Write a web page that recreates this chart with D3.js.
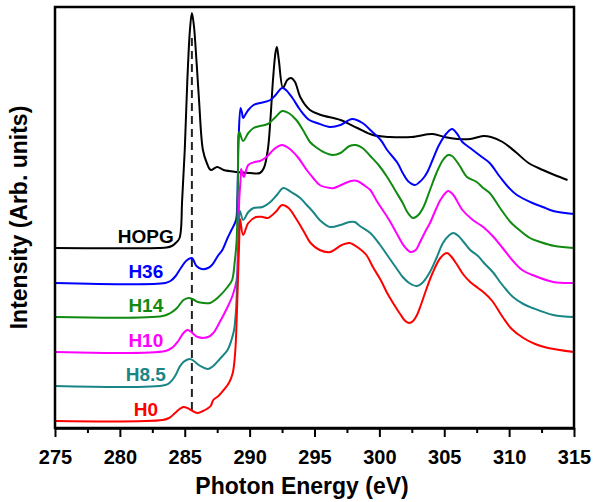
<!DOCTYPE html>
<html>
<head>
<meta charset="utf-8">
<script src="https://cdn.jsdelivr.net/npm/d3@7"></script>
<style>
  body { margin: 0; background: #fff; }
  svg text { font-family: "Liberation Sans", Arial, sans-serif; font-weight: bold; }
</style>
</head>
<body>
<div id="chart"></div>
<script>
// x ticks
var xTicks = [275, 280, 285, 290, 295, 300, 305, 310, 315];
var xMinor = [277.5, 282.5, 287.5, 292.5, 297.5, 302.5, 307.5, 312.5];

// sample names, top to bottom
var names = ["HOPG", "H36", "H14", "H10", "H8.5", "H0"];
var colors = ["#000000", "#0000ff", "#108a10", "#ff00ff", "#1a8585", "#ff0000"];

// spectra, [photon energy (eV), intensity (arb., stacked)]
var hopg = [[275,180],[283,180],[283.6,180.5],[284,182],[284.3,185],[284.6,190],[284.8,228],[285,278],[285.2,348],
  [285.4,398],[285.55,415],[285.7,403],[285.9,368],[286.1,328],[286.4,278],[286.7,265],[287,258],[287.5,261],
  [288,258],[289,256],[290,255],[290.8,255],[291.1,260],[291.4,278],[291.6,308],[291.8,348],[292,376],[292.1,381],
  [292.25,368],[292.57,340],[292.9,348],[293.2,350],[293.5,346],[293.9,331],[294.65,318],[295.5,313],[297,308],
  [298.3,300],[299.5,293],[300.8,291],[302.5,291],[304.1,294],[305,291],[306,289],[307,289],[308,292],[308.6,291],
  [309.5,286],[310.5,276],[311.5,265],[312.6,258],[313.5,253],[314.5,248]];

var h36 = [[275,145],[283.5,145],[283.9,147],[284.3,152],[284.7,160],[285.1,167],[285.55,170],[285.9,162],[286.3,159],
  [286.8,160],[287.1,163],[287.6,173],[287.9,178],[288.3,190],[288.6,198],[288.95,208],[289.05,228],[289.15,288],
  [289.3,320],[289.4,316],[289.5,310],[289.65,313],[289.9,318],[290.3,323],[290.8,325],[291.6,328],[292,333],
  [292.5,340],[292.8,338],[293.3,330],[293.9,318],[294.6,308],[295.2,305],[296.2,301],[297,303],[297.9,309],
  [298.7,305],[299.3,298],[300.1,288],[300.6,278],[301.4,265],[301.8,255],[302.2,247],[302.75,243],[303.1,246],
  [303.4,250],[303.7,256],[304.1,268],[304.6,283],[305.2,295],[305.6,299],[306,294],[306.4,286],[307,280],
  [307.8,272],[308.5,265],[309.3,251],[310,240],[310.6,233],[311.8,225],[312.6,221],[313.4,217],[315,214]];

var h14 = [[275,111],[283.3,112],[283.9,115],[284.4,120],[284.9,128],[285.3,130],[285.6,129],[286,126],[286.5,125],
  [286.95,125],[287.6,131],[288.3,141],[288.65,148],[288.85,166],[289,188],[289.1,248],[289.2,296],[289.5,287],
  [289.9,295],[290.3,300],[290.8,302],[291.4,304],[292,311],[292.5,317],[293,315],[293.6,308],[294.2,296],
  [294.65,286],[295.2,280],[295.7,276],[296.4,273],[297,275],[297.7,282],[298.2,283],[298.7,280],[299.3,272],
  [300,262],[300.6,251],[301.2,238],[301.8,225],[302.2,215],[302.6,210],[303,213],[303.4,221],[303.9,238],
  [304.4,255],[304.9,268],[305.3,273],[305.6,272],[306.2,262],[306.75,251],[307.5,246],[308,240],[308.5,235],
  [309.3,220],[310.1,206],[310.6,200],[311.6,190],[312.4,186],[313.5,182],[315,180]];

var h10 = [[275,76],[283.5,77],[284.1,81],[284.5,87],[284.9,95],[285.2,98],[285.5,96],[286,91],[286.8,91],[287.2,95],
  [287.7,106],[288.3,121],[288.7,133],[289,148],[289.1,178],[289.2,228],[289.3,248],[289.35,259],[289.55,251],
  [289.9,263],[290.4,266],[290.8,267],[291.3,271],[291.9,279],[292.5,283],[293,280],[293.7,271],[294.4,258],
  [294.9,250],[295.4,243],[296.2,240],[296.5,240],[297.8,247],[298.3,247],[298.9,242],[299.3,238],[299.8,227],
  [300.8,207],[301.4,193],[301.9,182],[302.4,176],[302.8,178],[303.1,185],[303.6,198],[303.9,205],[304.4,220],
  [304.7,228],[305.3,237],[305.7,233],[306.4,218],[307.2,208],[308,201],[308.8,191],[309.5,180],[310.3,167],
  [311,158],[311.8,153],[313.4,146],[315,145]];

var h85 = [[275,42],[283.5,43],[283.9,46],[284.3,53],[284.6,61],[284.9,66],[285.4,69],[285.7,67],[286.2,62],[286.8,59],
  [287.2,62],[287.7,69],[288.3,78],[288.6,88],[288.8,98],[288.95,118],[289.05,148],[289.15,188],[289.25,217],
  [289.5,208],[289.9,216],[290.3,220],[291,221],[291.6,226],[292.1,233],[292.6,240],[293.2,236],[293.9,230],
  [294.4,223],[294.9,216],[295.4,208],[296.2,201],[297,203],[297.7,206],[298.1,206],[298.5,202],[299.3,195],
  [300,184],[300.6,173],[301.3,160],[301.8,151],[302.3,145],[302.9,142],[303.3,145],[303.9,156],[304.4,170],
  [304.9,185],[305.4,193],[305.7,195],[306.1,192],[306.5,186],[307,178],[307.6,172],[308,166],[308.8,155],
  [309.3,146],[309.8,138],[310.3,131],[311.1,124],[311.8,120],[313.4,113],[315,111]];

var h0 = [[275,7],[283.3,8],[283.8,10],[284.25,15],[284.6,19],[284.9,21],[285.2,20],[285.6,17],[285.95,15],[286.4,17],
  [286.7,19],[287,22],[287.2,28],[287.6,32],[288,38],[288.4,45],[288.7,55],[288.9,78],[289,108],[289.1,148],
  [289.2,188],[289.26,209],[289.5,193],[289.9,205],[290.5,211],[291,211],[291.4,210],[292,216],[292.5,223],
  [293,220],[293.6,209],[294.2,196],[294.7,185],[295.4,178],[296.2,176],[297.1,183],[297.7,185],[298.4,180],
  [299,173],[299.5,161],[300.1,148],[300.6,135],[301.1,124],[301.6,114],[302,107],[302.3,105],[302.6,107],
  [302.9,113],[303.2,123],[303.6,138],[304.1,155],[304.7,170],[305.2,175],[305.5,172],[306,163],[306.5,153],[307,146],
  [307.6,140],[308.1,135],[308.7,127],[309.5,111],[310.2,99],[311.1,90],[312,84],[313,80],[315,76]];

var spectra = [hopg, h36, h14, h10, h85, h0];

// dashed marker for the C=C pi* peak
var dashE = 285.55;
var dashRange = [18, 393];

var W = 594, H = 502;
var mLeft = 55, mRight = 574, mTop = 7, mBottom = 428;

var svg = d3.select("#chart").append("svg")
  .attr("width", W)
  .attr("height", H);

var x = d3.scaleLinear().domain([275, 315]).range([mLeft, mRight]);
var y = d3.scaleLinear().domain([0, 421]).range([mBottom, mTop]);

var line = d3.line()
  .x(function(d) { return x(d[0]); })
  .y(function(d) { return y(d[1]); })
  .curve(d3.curveCatmullRom.alpha(0.5));

// dashed line goes under the curves
svg.append("line")
  .attr("x1", x(dashE)).attr("x2", x(dashE))
  .attr("y1", y(dashRange[0])).attr("y2", y(dashRange[1]))
  .attr("stroke", "#222")
  .attr("stroke-width", 2)
  .attr("stroke-dasharray", "8,5");

svg.selectAll("path.spec")
  .data(spectra)
  .enter()
  .append("path")
  .attr("class", "spec")
  .attr("d", line)
  .attr("fill", "none")
  .attr("stroke", function(d, i) { return colors[i]; })
  .attr("stroke-width", 2);

// sample labels sit just above each flat pre-edge
svg.selectAll("text.lab")
  .data(names)
  .enter()
  .append("text")
  .attr("class", "lab")
  .attr("x", x(282))
  .attr("y", function(d, i) { return y(spectra[i][0][1]) - 12; })
  .attr("dy", "0.36em")
  .attr("text-anchor", "middle")
  .attr("font-size", 19)
  .attr("fill", function(d, i) { return colors[i]; })
  .text(function(d) { return d; });

// frame
svg.append("rect")
  .attr("x", mLeft).attr("y", mTop)
  .attr("width", mRight - mLeft).attr("height", mBottom - mTop)
  .attr("fill", "none")
  .attr("stroke", "#000")
  .attr("stroke-width", 2.5);

var xAxis = svg.append("g")
  .attr("transform", "translate(0," + mBottom + ")")
  .call(d3.axisBottom(x).tickValues(xTicks).tickSize(9).tickSizeOuter(0).tickPadding(13));
xAxis.select(".domain").attr("stroke-width", 2.5);
xAxis.selectAll(".tick line").attr("stroke-width", 2);
xAxis.selectAll("text").attr("font-size", 20).attr("fill", "#000")
  .style("font-family", "'Liberation Sans', Arial, sans-serif").style("font-weight", "bold");

var minor = svg.append("g")
  .attr("transform", "translate(0," + mBottom + ")")
  .call(d3.axisBottom(x).tickValues(xMinor).tickSize(5).tickFormat(""));
minor.select(".domain").remove();
minor.selectAll(".tick line").attr("stroke-width", 2);

svg.append("text")
  .attr("x", 302)
  .attr("y", 494)
  .attr("text-anchor", "middle")
  .attr("font-size", 23)
  .text("Photon Energy (eV)");

svg.append("text")
  .attr("transform", "translate(27," + (mTop + mBottom) / 2 + ") rotate(-90)")
  .attr("text-anchor", "middle")
  .attr("font-size", 23)
  .text("Intensity (Arb. units)");
</script>
</body>
</html>
